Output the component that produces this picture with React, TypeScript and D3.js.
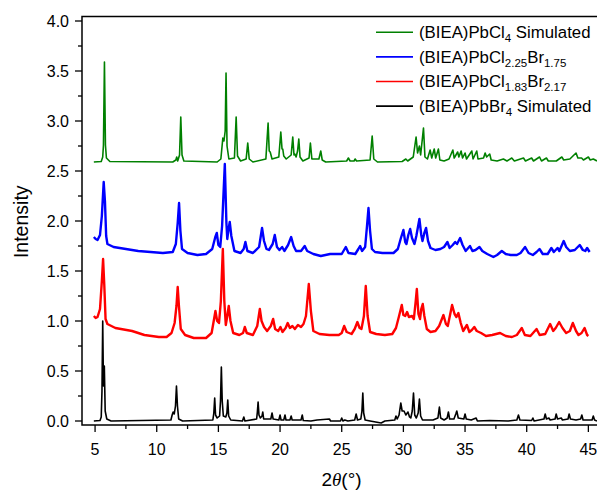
import React from "react";
import * as d3 from "d3";

// Powder XRD patterns, stacked with vertical offsets: [2θ (°), intensity]
const pbcl4Sim: [number, number][] = [
  [4.9,2.59],[5.5,2.595],[5.62,2.64],[5.68,2.76],[5.76,3.59],[5.84,2.76],[5.92,2.63],[6.2,2.595],
  [11.3,2.59],[11.55,2.61],[11.62,2.64],[11.7,2.6],[11.85,2.66],[11.95,3.04],[12.05,2.66],[12.2,2.6],
  [14.9,2.59],[15.2,2.62],[15.36,2.83],[15.45,2.8],[15.55,2.9],[15.62,3.48],[15.7,2.75],[15.85,2.62],
  [16.3,2.63],[16.44,3.04],[16.55,2.65],[16.8,2.6],[17.25,2.62],[17.38,2.78],[17.5,2.62],[17.8,2.59],
  [18.85,2.62],[19.03,2.98],[19.12,2.7],[19.2,2.69],[19.35,2.62],[19.9,2.64],[20.06,2.89],[20.16,2.72],
  [20.22,2.72],[20.3,2.65],[20.5,2.62],[20.9,2.66],[21.03,2.84],[21.13,2.66],[21.2,2.67],[21.3,2.64],
  [21.42,2.7],[21.52,2.82],[21.62,2.64],[21.85,2.6],[22.35,2.63],[22.46,2.78],[22.58,2.62],[23.15,2.62],
  [23.3,2.7],[23.42,2.61],[23.7,2.59],[25.4,2.6],[25.54,2.63],[25.68,2.6],[26.0,2.6],[26.09,2.62],
  [26.2,2.6],[27.3,2.61],[27.47,2.85],[27.6,2.62],[27.9,2.59],[29.9,2.595],[30.2,2.62],[30.35,2.6],
  [30.8,2.64],[31.03,2.84],[31.15,2.68],[31.3,2.75],[31.4,2.66],[31.63,2.93],[31.75,2.64],[31.95,2.62],
  [32.17,2.71],[32.3,2.63],[32.5,2.72],[32.62,2.63],[32.84,2.72],[32.96,2.61],[33.3,2.6],[33.7,2.62],
  [34.01,2.71],[34.12,2.63],[34.4,2.69],[34.5,2.64],[34.68,2.7],[34.8,2.63],[35.0,2.68],[35.12,2.62],
  [35.55,2.7],[35.65,2.62],[35.95,2.7],[36.05,2.62],[36.5,2.63],[36.63,2.68],[36.75,2.64],[37.0,2.67],
  [37.12,2.61],[37.6,2.6],[38.11,2.62],[38.4,2.6],[38.79,2.63],[39.0,2.6],[39.74,2.63],[39.9,2.6],
  [40.4,2.63],[40.55,2.6],[41.04,2.64],[41.2,2.6],[41.6,2.63],[41.75,2.6],[42.4,2.6],[42.85,2.64],
  [43.0,2.61],[43.5,2.62],[44.0,2.68],[44.15,2.63],[44.45,2.63],[44.6,2.61],[45.0,2.64],[45.15,2.61],
  [45.4,2.62],[45.7,2.6],
];

const cl225br175: [number, number][] = [
  [4.9,1.84],[5.05,1.82],[5.2,1.81],[5.4,1.86],[5.55,2.05],[5.7,2.39],[5.8,2.2],[5.9,1.85],[6.0,1.77],
  [6.5,1.74],[7.5,1.72],[8.5,1.7],[9.5,1.69],[10.5,1.68],[11.3,1.69],[11.55,1.77],[11.7,1.98],
  [11.81,2.18],[11.92,1.9],[12.05,1.72],[12.5,1.68],[13.3,1.66],[14.0,1.67],[14.5,1.72],[14.75,1.84],
  [14.87,1.88],[15.0,1.76],[15.15,1.74],[15.3,1.95],[15.52,2.57],[15.65,1.98],[15.72,1.82],[15.8,1.9],
  [15.92,1.99],[16.05,1.85],[16.3,1.7],[16.8,1.68],[17.05,1.72],[17.19,1.79],[17.35,1.7],[17.8,1.68],
  [18.3,1.74],[18.54,1.93],[18.7,1.8],[18.9,1.72],[19.1,1.71],[19.4,1.77],[19.57,1.86],[19.75,1.74],
  [19.95,1.71],[20.17,1.74],[20.35,1.7],[20.65,1.76],[20.9,1.84],[21.1,1.75],[21.3,1.7],[21.7,1.7],
  [22.0,1.75],[22.2,1.7],[22.7,1.67],[23.3,1.65],[24.06,1.67],[25.0,1.67],[25.33,1.74],[25.55,1.68],
  [26.1,1.67],[26.35,1.72],[26.49,1.75],[26.65,1.7],[26.9,1.74],[27.05,1.95],[27.17,2.13],[27.3,1.9],
  [27.45,1.72],[27.7,1.69],[28.3,1.68],[29.2,1.68],[29.55,1.72],[29.8,1.83],[30.0,1.91],[30.15,1.79],
  [30.25,1.77],[30.4,1.86],[30.55,1.92],[30.7,1.83],[30.9,1.77],[31.05,1.85],[31.3,2.02],[31.45,1.86],
  [31.55,1.8],[31.7,1.88],[31.84,1.93],[32.0,1.8],[32.2,1.73],[32.6,1.71],[33.0,1.72],[33.3,1.74],
  [33.57,1.79],[33.75,1.73],[34.0,1.76],[34.2,1.79],[34.35,1.77],[34.6,1.83],[34.8,1.76],[35.05,1.7],
  [35.4,1.75],[35.6,1.7],[35.85,1.71],[36.17,1.74],[36.4,1.7],[36.8,1.67],[37.3,1.64],[37.6,1.66],
  [37.98,1.7],[38.3,1.67],[38.7,1.66],[39.2,1.66],[39.5,1.68],[39.87,1.74],[40.15,1.68],[40.5,1.66],
  [40.8,1.69],[41.04,1.72],[41.3,1.67],[41.7,1.67],[42.0,1.73],[42.2,1.69],[42.5,1.73],[42.65,1.7],
  [43.0,1.8],[43.2,1.74],[43.5,1.7],[43.9,1.71],[44.3,1.76],[44.55,1.71],[44.75,1.7],[44.9,1.73],
  [45.1,1.69],
];

const cl183br217: [number, number][] = [
  [4.9,1.05],[5.05,1.03],[5.2,1.04],[5.4,1.12],[5.55,1.4],[5.65,1.62],[5.75,1.35],[5.85,1.02],[6.0,0.97],
  [6.65,0.93],[8.0,0.9],[9.0,0.86],[10.17,0.84],[10.8,0.84],[11.2,0.88],[11.45,0.98],[11.6,1.15],
  [11.7,1.34],[11.8,1.15],[11.95,0.92],[12.3,0.86],[13.0,0.83],[14.0,0.83],[14.45,0.88],[14.65,1.02],
  [14.76,1.1],[14.9,1.0],[15.05,0.98],[15.2,1.2],[15.36,1.72],[15.48,1.2],[15.6,0.96],[15.72,1.05],
  [15.84,1.15],[15.98,1.0],[16.2,0.88],[16.7,0.86],[17.0,0.88],[17.14,0.94],[17.3,0.88],[17.8,0.86],
  [18.15,0.95],[18.36,1.12],[18.5,1.0],[18.7,0.94],[18.95,0.9],[19.25,0.95],[19.44,1.02],[19.6,0.92],
  [19.85,0.9],[20.03,0.94],[20.2,0.89],[20.45,0.93],[20.62,0.98],[20.8,0.93],[21.0,0.95],[21.2,0.92],
  [21.45,0.96],[21.7,0.94],[21.9,0.97],[22.1,1.05],[22.33,1.37],[22.5,1.1],[22.7,0.9],[23.2,0.87],
  [24.0,0.86],[24.76,0.86],[25.0,0.88],[25.2,0.95],[25.4,0.89],[25.8,0.87],[26.05,0.92],[26.27,0.99],
  [26.45,0.93],[26.6,0.92],[26.8,1.05],[26.95,1.35],[27.1,1.05],[27.3,0.89],[27.8,0.87],[28.5,0.86],
  [29.1,0.87],[29.4,0.93],[29.65,1.05],[29.87,1.16],[30.0,1.06],[30.15,1.05],[30.3,1.09],[30.45,1.04],
  [30.7,1.05],[30.85,1.02],[31.0,1.2],[31.09,1.32],[31.22,1.07],[31.35,1.02],[31.45,1.12],[31.57,1.17],
  [31.7,1.05],[31.9,0.92],[32.2,0.89],[32.6,0.9],[32.9,0.95],[33.25,1.06],[33.45,0.97],[33.6,0.95],
  [33.8,1.07],[33.95,1.16],[34.15,1.07],[34.3,1.04],[34.46,1.08],[34.65,0.98],[34.85,0.9],[35.15,0.96],
  [35.35,0.89],[35.55,0.91],[35.75,0.94],[35.95,0.9],[36.3,0.88],[36.7,0.85],[37.2,0.86],[37.84,0.88],
  [38.3,0.85],[38.8,0.84],[39.2,0.86],[39.6,0.93],[39.85,0.86],[40.3,0.85],[40.8,0.92],[41.05,0.86],
  [41.5,0.87],[41.9,0.97],[42.15,0.9],[42.35,0.93],[42.63,0.99],[42.9,0.93],[43.2,0.88],[43.5,0.9],
  [43.74,0.98],[44.0,0.9],[44.2,0.86],[44.45,0.88],[44.69,0.93],[44.9,0.86],[45.0,0.85],
];

const pbbr4Sim: [number, number][] = [
  [4.9,0.0],[5.4,0.005],[5.5,0.04],[5.56,0.3],[5.62,1.0],[5.68,0.35],[5.75,0.55],[5.82,0.1],[5.95,0.02],
  [6.3,0.0],[11.15,0.01],[11.25,0.06],[11.33,0.09],[11.42,0.07],[11.52,0.15],[11.6,0.35],[11.68,0.15],
  [11.78,0.02],[12.1,0.0],[14.55,0.01],[14.63,0.08],[14.7,0.23],[14.77,0.06],[14.9,0.03],[15.1,0.05],
  [15.17,0.2],[15.24,0.54],[15.31,0.2],[15.4,0.05],[15.6,0.04],[15.69,0.08],[15.76,0.21],[15.83,0.05],
  [16.0,0.01],[16.95,0.0],[17.06,0.04],[17.15,0.0],[18.1,0.02],[18.16,0.09],[18.22,0.19],[18.29,0.06],
  [18.4,0.03],[18.54,0.05],[18.6,0.09],[18.67,0.02],[19.25,0.02],[19.35,0.08],[19.44,0.02],[19.9,0.01],
  [20.0,0.06],[20.08,0.01],[20.3,0.01],[20.4,0.06],[20.48,0.01],[20.8,0.01],[20.9,0.05],[20.98,0.01],
  [21.7,0.01],[21.8,0.06],[21.88,0.005],[22.5,0.0],[23.0,0.01],[24.0,0.02],[24.1,0.0],[24.9,0.0],
  [25.0,0.03],[25.1,0.0],[25.25,0.01],[25.5,0.0],[26.05,0.01],[26.17,0.07],[26.28,0.01],[26.55,0.02],
  [26.64,0.1],[26.71,0.28],[26.78,0.08],[26.9,0.01],[27.3,0.0],[28.2,-0.02],[28.5,0.0],[29.3,0.01],
  [29.4,0.05],[29.5,0.02],[29.65,0.06],[29.79,0.18],[29.9,0.1],[30.05,0.1],[30.2,0.06],[30.37,0.09],
  [30.5,0.04],[30.6,0.03],[30.72,0.1],[30.82,0.28],[30.92,0.06],[31.05,0.03],[31.2,0.08],[31.3,0.22],
  [31.4,0.05],[31.55,0.01],[32.4,0.01],[32.8,0.03],[32.92,0.14],[33.02,0.03],[33.3,0.01],[33.55,0.03],
  [33.65,0.09],[33.75,0.02],[34.1,0.02],[34.25,0.07],[34.33,0.1],[34.45,0.03],[34.9,0.02],[35.0,0.07],
  [35.1,0.02],[35.5,0.01],[35.9,0.03],[36.0,0.0],[37.0,0.005],[38.5,0.0],[39.2,0.01],[39.33,0.06],
  [39.45,0.01],[40.4,0.005],[40.5,0.03],[40.6,0.0],[41.4,0.02],[41.5,0.07],[41.6,0.02],[41.8,0.03],
  [41.9,0.01],[42.3,0.02],[42.39,0.07],[42.5,0.02],[42.8,0.03],[42.9,0.01],[43.35,0.02],[43.44,0.07],
  [43.55,0.02],[44.0,0.01],[44.37,0.02],[44.47,0.06],[44.57,0.01],[45.3,0.01],[45.4,0.05],[45.5,0.01],
  [45.7,0.0],
];

const xTicks = [5, 10, 15, 20, 25, 30, 35, 40, 45];
const xMinorTicks = [7.5, 12.5, 17.5, 22.5, 27.5, 32.5, 37.5, 42.5];
const yTicks = [0, 0.5, 1.0, 1.5, 2.0, 2.5, 3.0, 3.5, 4.0];
const yMinorTicks = [0.25, 0.75, 1.25, 1.75, 2.25, 2.75, 3.25, 3.75];

type Part = { t: string; sub?: boolean };
const legendItems: { color: string; label: Part[] }[] = [
  { color: "#008000", label: [{ t: "(BIEA)PbCl" }, { t: "4", sub: true }, { t: " Simulated" }] },
  { color: "#0000ff", label: [{ t: "(BIEA)PbCl" }, { t: "2.25", sub: true }, { t: "Br" }, { t: "1.75", sub: true }] },
  { color: "#ff0000", label: [{ t: "(BIEA)PbCl" }, { t: "1.83", sub: true }, { t: "Br" }, { t: "2.17", sub: true }] },
  { color: "#000000", label: [{ t: "(BIEA)PbBr" }, { t: "4", sub: true }, { t: " Simulated" }] },
];

const W = 597;
const H = 493;
const L = 82;
const R = 597;
const T = 16.5;
const B = 425;
const FONT = "Arial, 'Liberation Sans', sans-serif";

export default function App() {
  const x = d3.scaleLinear().domain([3.94, 45.7]).range([L, R]);
  const y = d3.scaleLinear().domain([-0.04, 4.045]).range([B, T]);
  const line = d3
    .line<[number, number]>()
    .x((d) => x(d[0]))
    .y((d) => y(d[1]));

  const series = [
    { data: pbbr4Sim, color: "#000000", w: 1.6 },
    { data: cl183br217, color: "#ff0000", w: 2.4 },
    { data: cl225br175, color: "#0000ff", w: 2.4 },
    { data: pbcl4Sim, color: "#008000", w: 1.6 },
  ];

  return (
    <svg
      width={W}
      height={H}
      style={{ position: "absolute", left: 0, top: 0, background: "#fff" }}
      fontFamily={FONT}
    >
      <defs>
        <clipPath id="plot-clip">
          <rect x={L} y={T} width={R - L} height={B - T} />
        </clipPath>
      </defs>

      <g clipPath="url(#plot-clip)">
        {series.map((s, i) => (
          <path
            key={i}
            d={line(s.data) ?? ""}
            fill="none"
            stroke={s.color}
            strokeWidth={s.w}
            strokeLinejoin="round"
          />
        ))}
      </g>

      {/* frame */}
      <rect x={L} y={T} width={R - L + 2} height={B - T} fill="none" stroke="#000" strokeWidth={1.5} />

      {/* y axis */}
      {yTicks.map((t) => (
        <g key={"y" + t}>
          <line x1={L - 7} x2={L} y1={y(t)} y2={y(t)} stroke="#000" strokeWidth={1.3} />
          <text x={L - 13} y={y(t) + 5.6} fontSize={16} textAnchor="end" fill="#000">
            {t.toFixed(1)}
          </text>
        </g>
      ))}
      {yMinorTicks.map((t) => (
        <line key={"ym" + t} x1={L - 4} x2={L} y1={y(t)} y2={y(t)} stroke="#000" strokeWidth={1.3} />
      ))}

      {/* x axis */}
      {xTicks.map((t) => (
        <g key={"x" + t}>
          <line x1={x(t)} x2={x(t)} y1={B} y2={B + 7} stroke="#000" strokeWidth={1.3} />
          <text x={x(t)} y={B + 29.5} fontSize={16} textAnchor="middle" fill="#000">
            {t}
          </text>
        </g>
      ))}
      {xMinorTicks.map((t) => (
        <line key={"xm" + t} x1={x(t)} x2={x(t)} y1={B} y2={B + 4} stroke="#000" strokeWidth={1.3} />
      ))}

      {/* axis titles */}
      <text x={(L + R) / 2 + 2} y={486} fontSize={19} textAnchor="middle" fill="#000">
        2
        <tspan fontStyle="italic" fontFamily="'Liberation Serif', 'Times New Roman', serif">
          θ
        </tspan>
        (°)
      </text>
      <text
        transform={`translate(27.5, ${(T + B) / 2 + 1}) rotate(-90)`}
        fontSize={19.5}
        textAnchor="middle"
        fill="#000"
      >
        Intensity
      </text>

      {/* legend */}
      {legendItems.map((item, i) => {
        const ly = 32.3 + i * 24.6;
        return (
          <g key={"lg" + i}>
            <line x1={376} x2={413} y1={ly} y2={ly} stroke={item.color} strokeWidth={1.6} />
            <text x={419} y={ly + 5.8} fontSize={16.8} fill="#000">
              {item.label.map((p, j) =>
                p.sub ? (
                  <tspan key={j} fontSize={11.5} dy={4}>
                    {p.t}
                  </tspan>
                ) : (
                  <tspan key={j} dy={j > 0 && item.label[j - 1].sub ? -4 : 0}>
                    {p.t}
                  </tspan>
                )
              )}
            </text>
          </g>
        );
      })}
    </svg>
  );
}
